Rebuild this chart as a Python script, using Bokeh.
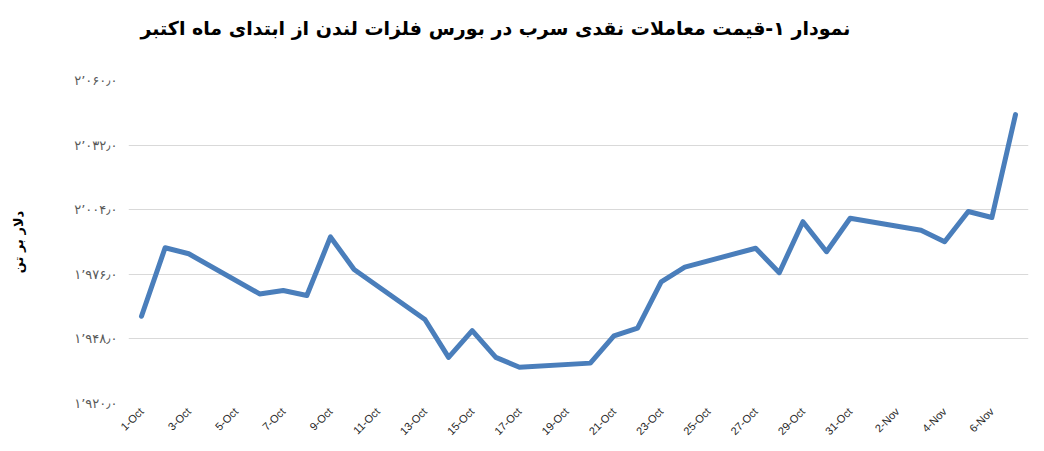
import pandas as pd
from bokeh.plotting import figure
from bokeh.models import FixedTicker, Range1d, ColumnDataSource, Title
from bokeh.embed import file_html
from bokeh.resources import INLINE

# ---- data ----
dates = ["2014-10-01", "2014-10-02", "2014-10-03", "2014-10-06", "2014-10-07",
         "2014-10-08", "2014-10-09", "2014-10-10", "2014-10-13", "2014-10-14",
         "2014-10-15", "2014-10-16", "2014-10-17", "2014-10-20", "2014-10-21",
         "2014-10-22", "2014-10-23", "2014-10-24", "2014-10-27", "2014-10-28",
         "2014-10-29", "2014-10-30", "2014-10-31", "2014-11-03", "2014-11-04",
         "2014-11-05", "2014-11-06", "2014-11-07"]
prices = [1957.8, 1987.5, 1984.9, 1967.5, 1969.0, 1966.8, 1992.2, 1978.1,
          1956.4, 1940.0, 1951.6, 1940.0, 1935.7, 1937.5, 1949.3, 1952.7,
          1972.7, 1979.1, 1987.3, 1976.7, 1998.8, 1985.8, 2000.3, 1995.1,
          1990.1, 2003.2, 2000.6, 2045.2]

tick_dates = ["2014-10-01", "2014-10-03", "2014-10-05", "2014-10-07", "2014-10-09",
              "2014-10-11", "2014-10-13", "2014-10-15", "2014-10-17", "2014-10-19",
              "2014-10-21", "2014-10-23", "2014-10-25", "2014-10-27", "2014-10-29",
              "2014-10-31", "2014-11-02", "2014-11-04", "2014-11-06"]
tick_labels = ["1-Oct", "3-Oct", "5-Oct", "7-Oct", "9-Oct", "11-Oct", "13-Oct",
               "15-Oct", "17-Oct", "19-Oct", "21-Oct", "23-Oct", "25-Oct",
               "27-Oct", "29-Oct", "31-Oct", "2-Nov", "4-Nov", "6-Nov"]

y_ticks = [1920, 1948, 1976, 2004, 2032, 2060]
y_tick_labels = ["۱٬۹۲۰٫۰", "۱٬۹۴۸٫۰", "۱٬۹۷۶٫۰", "۲٬۰۰۴٫۰", "۲٬۰۳۲٫۰", "۲٬۰۶۰٫۰"]

title_text = "نمودار ۱-قیمت معاملات نقدی سرب در بورس فلزات لندن از ابتدای ماه اکتبر"
y_label = "دلار بر تن"

# ---- derive day offsets ----
start = pd.Timestamp(dates[0])
x = [(pd.Timestamp(d) - start).days for d in dates]
tx = [(pd.Timestamp(d) - start).days for d in tick_dates]

src = ColumnDataSource(dict(x=x, y=prices))

p = figure(width=1044, height=451, output_backend="svg", toolbar_location=None,
           title=None,
           x_range=Range1d(-0.55, 37.55), y_range=Range1d(1920, 2060),
           min_border_left=128, min_border_right=16, min_border_top=80,
           min_border_bottom=48)

# spacer (nearest the frame) then the real title above it
spacer = Title(text=" ", text_font_size="1px", standoff=39)
p.add_layout(spacer, "above")
main_title = Title(text=title_text, align="left", offset=12, standoff=0,
                   text_font="DejaVu Sans", text_font_size="19px",
                   text_font_style="bold", text_color="#000000")
p.add_layout(main_title, "above")

p.line("x", "y", source=src, line_color="#4a7ebb", line_width=5,
       line_join="round", line_cap="round")

p.outline_line_color = None
p.xgrid.grid_line_color = None
p.ygrid.grid_line_color = "#d9d9d9"
p.ygrid.grid_line_width = 1

p.xaxis.ticker = FixedTicker(ticks=tx)
p.xaxis.major_label_overrides = {t: l for t, l in zip(tx, tick_labels)}
p.xaxis.major_label_orientation = 0.785
p.xaxis.axis_line_color = None
p.xaxis.major_tick_line_color = None
p.xaxis.minor_tick_line_color = None
p.xaxis.major_tick_in = 0
p.xaxis.major_tick_out = 0
p.xaxis.major_label_text_font = "Liberation Sans"
p.xaxis.major_label_text_font_size = "11px"
p.xaxis.major_label_text_color = "#262626"
p.xaxis.major_label_standoff = 6

p.yaxis.ticker = FixedTicker(ticks=y_ticks)
p.yaxis.major_label_overrides = {t: l for t, l in zip(y_ticks, y_tick_labels)}
p.yaxis.axis_line_color = None
p.yaxis.major_tick_line_color = None
p.yaxis.minor_tick_line_color = None
p.yaxis.major_tick_in = 0
p.yaxis.major_tick_out = 0
p.yaxis.major_label_text_font = "DejaVu Sans"
p.yaxis.major_label_text_font_size = "13px"
p.yaxis.major_label_text_color = "#595959"
p.yaxis.major_label_standoff = 11
p.yaxis.axis_label = y_label
p.yaxis.axis_label_text_font = "DejaVu Sans"
p.yaxis.axis_label_text_font_size = "13px"
p.yaxis.axis_label_text_font_style = "bold"
p.yaxis.axis_label_text_color = "#000000"
p.yaxis.axis_label_standoff = 45

open("out.html", "w").write(file_html(p, INLINE))
